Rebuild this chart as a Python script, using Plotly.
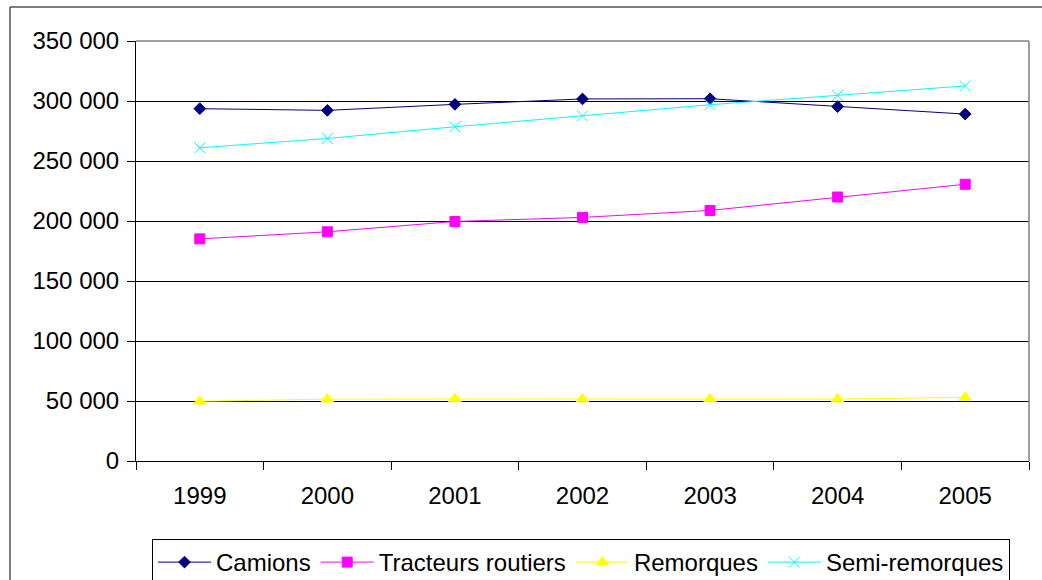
import plotly.graph_objects as go

# Parc de véhicules par catégorie, 1999-2005
years = ["1999", "2000", "2001", "2002", "2003", "2004", "2005"]
camions = [293600, 292200, 297200, 301700, 301900, 295300, 289100]
tracteurs = [185100, 191000, 199600, 203000, 208800, 220000, 230600]
remorques = [49800, 51500, 51700, 51600, 51700, 51600, 53000]
semi_remorques = [261000, 268800, 278500, 287500, 296900, 304700, 312600]

series = [
    ("Camions", camions, "#000080", "diamond", 9),
    ("Tracteurs routiers", tracteurs, "#FF00FF", "square", 10),
    ("Remorques", remorques, "#FFFF00", "triangle-up", 11),
    ("Semi-remorques", semi_remorques, "#00FFFF", "x-thin-open", 11),
]

W, H = 1042, 580
L, R, T, B = 136, 1029, 41, 461  # plot area in pixels


def px_x(p):
    return (p - L) / (R - L)


def px_y(p):
    return (B - p) / (B - T)


fig = go.Figure()
for name, vals, color, symbol, size in series:
    fig.add_trace(go.Scatter(
        x=years, y=vals, name=name, mode="lines+markers",
        line=dict(color=color, width=1),
        marker=dict(symbol=symbol, size=size, color=color,
                    line=dict(color=color, width=1)),
    ))

fig.update_layout(
    width=W, height=H,
    margin=dict(l=L, r=W - R, t=T, b=H - B, autoexpand=False),
    paper_bgcolor="white", plot_bgcolor="white",
    font=dict(family="Liberation Sans, Arial, sans-serif", size=24, color="black"),
    separators=", ",
    showlegend=True,
    legend=dict(
        orientation="h", x=px_x(152), y=px_y(539), xanchor="left", yanchor="top",
        bordercolor="black", borderwidth=1, bgcolor="white",
        itemwidth=53, font=dict(size=24),
    ),
    xaxis=dict(
        type="category", range=[-0.5, 6.5], showgrid=False,
        showline=True, linecolor="black", linewidth=1,
        ticks="outside", tickson="boundaries", ticklen=8, tickcolor="black",
        ticklabelstandoff=13,
    ),
    yaxis=dict(
        range=[0, 350000], dtick=50000, tickformat=",d",
        showgrid=True, gridcolor="black", gridwidth=1,
        showline=True, linecolor="black", linewidth=1,
        ticks="outside", ticklen=8, tickcolor="black",
        zeroline=False, ticklabelstandoff=3,
    ),
    shapes=[
        # plot area top and right edges
        dict(type="line", xref="paper", yref="paper", x0=0, x1=1, y0=1, y1=1,
             line=dict(color="#808080", width=1.5)),
        dict(type="line", xref="paper", yref="paper", x0=1, x1=1, y0=0, y1=1,
             line=dict(color="#808080", width=1.5)),
        # chart frame
        dict(type="rect", xref="paper", yref="paper",
             x0=px_x(10), x1=px_x(1050), y0=px_y(590), y1=px_y(7),
             line=dict(color="black", width=1), layer="below"),
    ],
)

fig.write_html("out.html")
